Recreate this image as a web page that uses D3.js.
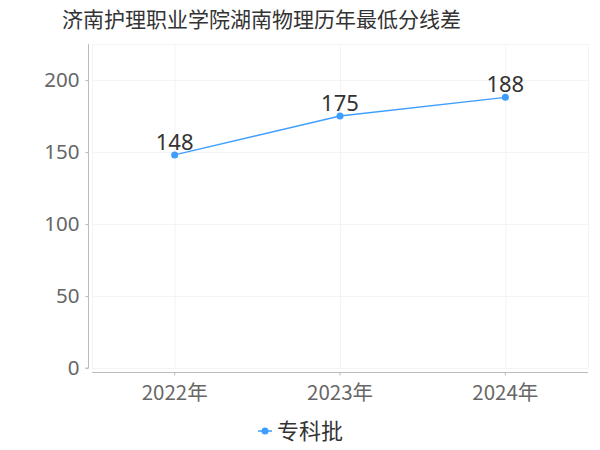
<!DOCTYPE html>
<html><head><meta charset="utf-8">
<script src="https://cdn.jsdelivr.net/npm/d3@7"></script>
<style>body{margin:0;background:#fff;} text{font-family:"Noto Sans CJK SC","Noto Sans",sans-serif;}</style>
</head><body><svg id="c" width="600" height="450"></svg>
<script>
const title = "济南护理职业学院湖南物理历年最低分线差";
const categories = ["2022年", "2023年", "2024年"];
const seriesName = "专科批";
const values = [148, 175, 188];
const yTicks = [0, 50, 100, 150, 200];

const color = "#3d9eff";
const svg = d3.select("#c");
const pLeft = 92, pRight = 588, pTop = 44, pBottom = 368;
const x = d3.scaleBand().domain(categories).range([pLeft, pRight]);
const y = d3.scaleLinear().domain([0, 225]).range([pBottom, pTop]);

// grid
const g = svg.append("g");
g.selectAll(".hg").data(yTicks.concat([225])).enter().append("line")
  .attr("x1", pLeft).attr("x2", pRight)
  .attr("y1", d => y(d) + 0.5).attr("y2", d => y(d) + 0.5)
  .attr("stroke", "#f4f4f4").attr("stroke-width", 1);
const vx = [pLeft, pRight].concat(categories.map(c => x(c) + x.bandwidth()/2));
g.selectAll(".vg").data(vx).enter().append("line")
  .attr("x1", d => d + 0.5).attr("x2", d => d + 0.5)
  .attr("y1", pTop).attr("y2", pBottom)
  .attr("stroke", "#f4f4f4").attr("stroke-width", 1);

// y axis
const ya = svg.append("g").attr("transform", "translate(88.5,0)")
  .call(d3.axisLeft(y).tickValues(yTicks).tickSize(3).tickPadding(6));
ya.select(".domain").attr("stroke", "#bbb").attr("d", `M-3,${y(0)}H0V${pTop}`);
ya.selectAll(".tick line").attr("stroke", "#bbb");
ya.selectAll(".tick text").attr("fill", "#666").style("font-size", "20.5px").style("font-family", '"Noto Sans","Noto Sans CJK SC",sans-serif');

// x axis
const xa = svg.append("g").attr("transform", "translate(0,372.5)")
  .call(d3.axisBottom(x).tickSize(3).tickPadding(6));
xa.select(".domain").attr("stroke", "#bbb").attr("d", `M${pLeft},0H${pRight}`);
xa.selectAll(".tick line").attr("stroke", "#bbb");
xa.selectAll(".tick text").attr("fill", "#666").style("font-size", "20.5px").attr("dy", "0.9em");

// line
const cx = d => x(d) + x.bandwidth()/2;
const pts = categories.map((c, i) => [cx(c), y(values[i])]);
svg.append("path").attr("d", d3.line()(pts)).attr("fill", "none")
  .attr("stroke", color).attr("stroke-width", 1.3);
svg.selectAll(".pt").data(pts).enter().append("circle")
  .attr("cx", d => d[0]).attr("cy", d => d[1]).attr("r", 3.5).attr("fill", color);
svg.selectAll(".lbl").data(categories).enter().append("text")
  .attr("x", c => cx(c)).attr("y", (c, i) => y(values[i]) - 5)
  .attr("text-anchor", "middle").attr("fill", "#333").style("font-size", "22px")
  .style("font-family", '"Noto Sans","Noto Sans CJK SC",sans-serif')
  .text((c, i) => values[i]);

// title
svg.append("text").attr("x", 261.5).attr("y", 27).attr("text-anchor", "middle")
  .attr("fill", "#333").style("font-size", "21px").text(title);

// legend
const lg = svg.append("g");
lg.append("line").attr("x1", 258).attr("x2", 272).attr("y1", 431).attr("y2", 431)
  .attr("stroke", color).attr("stroke-width", 1.5);
lg.append("circle").attr("cx", 265).attr("cy", 431).attr("r", 3.5).attr("fill", color);
lg.append("text").attr("x", 277).attr("y", 439).attr("fill", "#333")
  .style("font-size", "22px").text(seriesName);
</script></body></html>
